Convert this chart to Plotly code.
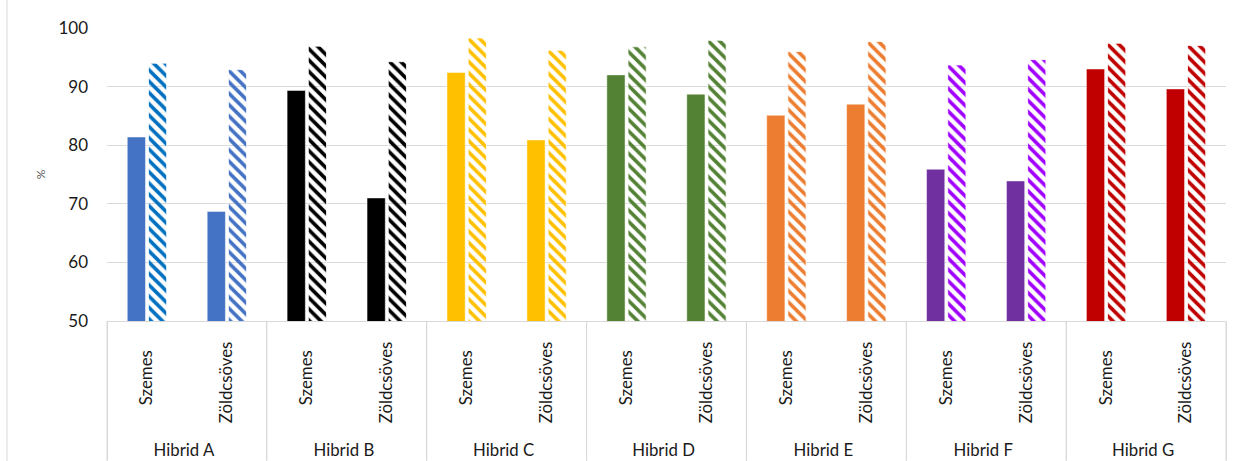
import plotly.graph_objects as go

hybrids = ["Hibrid A", "Hibrid B", "Hibrid C", "Hibrid D", "Hibrid E", "Hibrid F", "Hibrid G"]
subcats = ["Szemes", "Zöldcsöves"]

# values per hybrid: [Szemes, Zöldcsöves]
solid_vals = [81.4, 68.7, 89.35, 71.0, 92.4, 80.9, 92.0, 88.7, 85.1, 87.0, 75.9, 73.9, 93.0, 89.6]
hatch_vals = [94.0, 92.9, 96.9, 94.25, 98.3, 96.2, 96.8, 97.9, 96.0, 97.7, 93.7, 94.6, 97.4, 97.0]

solid_colors_h = ["#4472C4", "#000000", "#FFC000", "#548235", "#ED7D31", "#7030A0", "#C00000"]
hatch_colors_s = ["#0070C0", "#000000", "#FFC000", "#548235", "#ED7D31", "#A100FF", "#C00000"]
hatch_colors_z = ["#4472C4", "#000000", "#FFC000", "#548235", "#ED7D31", "#A100FF", "#C00000"]

y_ticks = [50, 60, 70, 80, 90, 100]

NB = "\u00a0"
pad = {"Szemes": 5, "Zöldcsöves": 3}
outer = [h for h in hybrids for _ in subcats]
inner = [s + NB * pad[s] for _ in hybrids for s in subcats]
solid_colors = [c for c in solid_colors_h for _ in subcats]
hatch_colors = [c for pair in zip(hatch_colors_s, hatch_colors_z) for c in pair]

FONT = "Lato"

fig = go.Figure()
fig.add_trace(go.Bar(
    x=[outer, inner], y=solid_vals,
    marker=dict(color=solid_colors, line=dict(color="rgba(255,255,255,0.6)", width=0.8)),
    showlegend=False, hoverinfo="skip", base=0,
))
fig.add_trace(go.Bar(
    x=[outer, inner], y=hatch_vals,
    marker=dict(color=hatch_colors,
                line=dict(color="white", width=0.8),
                pattern=dict(shape="\\", fillmode="replace", size=8, solidity=0.45,
                             fgcolor=hatch_colors, bgcolor="white")),
    showlegend=False, hoverinfo="skip", base=0,
))

n = len(hybrids)
shapes = [dict(type="line", xref="paper", yref="paper",
               x0=-100/1119, x1=-100/1119, y0=-140/293, y1=1+28/293,
               line=dict(color="#D9D9D9", width=1))]
for k in range(n + 1):
    shapes.append(dict(type="line", xref="paper", yref="paper",
                       x0=k/n, x1=k/n, y0=-140/293, y1=0,
                       line=dict(color="#D9D9D9", width=1)))

fig.update_layout(
    width=1240, height=461,
    margin=dict(l=107, r=14, t=28, b=140),
    paper_bgcolor="white", plot_bgcolor="white",
    barmode="group", bargap=0.47, bargroupgap=0.14,
    font=dict(family=FONT, color="#404040"),
    xaxis=dict(
        type="multicategory", automargin=False,
        showline=True, linecolor="#D9D9D9", linewidth=1,
        showdividers=True, dividercolor="#D9D9D9", dividerwidth=1,
        tickangle=-90, ticks="",
        tickfont=dict(family=FONT, size=16.8, color="#1a1a1a"),
        showgrid=False,
    ),
    yaxis=dict(
        range=[50, 100], tickvals=y_ticks, ticktext=[str(v) for v in y_ticks],
        automargin=False,
        showgrid=True, gridcolor="#D9D9D9", gridwidth=1,
        zeroline=False, showline=False, ticks="",
        ticklabelstandoff=18,
        tickfont=dict(family=FONT, size=17, color="#1a1a1a"),
        title=dict(text="%", font=dict(family=FONT, size=12, color="#595959"), standoff=10),
    ),
    shapes=shapes,
)

fig.write_html("out.html")
